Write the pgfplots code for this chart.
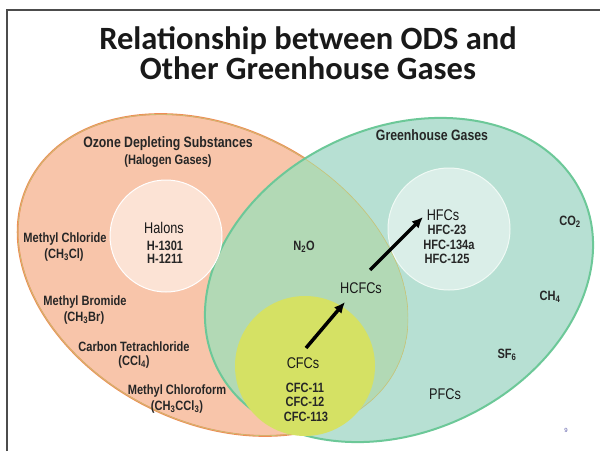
\documentclass[border=0pt]{standalone}
\usepackage{fontspec}
\setmainfont{Liberation Sans}
\newfontfamily\nar[FakeStretch=0.82]{Liberation Sans}
\newfontfamily\calfont{Carlito}
\usepackage{pgfplots}
\pgfplotsset{compat=1.18}
\usetikzlibrary{arrows.meta}
\definecolor{orfill}{RGB}{248,197,170}
\definecolor{oredge}{RGB}{240,140,85}
\definecolor{grfill}{RGB}{183,224,211}
\definecolor{gredge}{RGB}{108,200,152}
\definecolor{ovfill}{RGB}{178,217,181}
\definecolor{olive}{RGB}{200,195,120}
\definecolor{halfill}{RGB}{252,227,213}
\definecolor{hfcfill}{RGB}{218,238,232}
\definecolor{cfcfill}{RGB}{213,225,100}
\definecolor{txt}{RGB}{38,38,38}
\begin{document}
\begin{tikzpicture}
\begin{axis}[width=600pt,height=451pt,scale only axis,
  xmin=0,xmax=600,ymin=0,ymax=451,hide axis,clip=false]
\coordinate (sw) at (rel axis cs:0,0);
\coordinate (ne) at (rel axis cs:1,1);
% frame lines
\draw[line width=1.6pt,black!70] (7,0) -- (7,441) -- (600,441);
% orange ellipse (ODS)
\fill[orfill] (213,176) ellipse [x radius=206, y radius=147, rotate=-27];
\draw[oredge,line width=1.8pt] (213,176) ellipse [x radius=206, y radius=147, rotate=-27];
% green ellipse (GHG)
\fill[grfill] (399,171) ellipse [x radius=202, y radius=152, rotate=25];
\begin{scope}
\clip (213,176) ellipse [x radius=206, y radius=147, rotate=-27];
\fill[ovfill] (399,171) ellipse [x radius=202, y radius=152, rotate=25];
\draw[olive,line width=1.2pt] (213,176) ellipse [x radius=206, y radius=147, rotate=-27];
\end{scope}
\draw[gredge,line width=2pt] (399,171) ellipse [x radius=202, y radius=152, rotate=25];
% inner circles
\filldraw[fill=halfill,draw=white,line width=1pt] (166,215) circle [radius=56];
\filldraw[fill=hfcfill,draw=white!90!gredge,line width=1pt] (449,222) circle [radius=61];
\fill[cfcfill] (305,85) circle [radius=70];
% arrows
\draw[line width=3.5pt,-{Latex[length=11pt,width=10pt]}] (306,103) -- (345,149);
\draw[line width=3.5pt,-{Latex[length=11pt,width=10pt]}] (370,181) -- (423,234);
% title
\node[anchor=base,text=black!90] at (308,401) {\calfont\bfseries\fontsize{32.5}{32}\selectfont Relationship between ODS and};
\node[anchor=base,text=black!90] at (308,371) {\calfont\bfseries\fontsize{32.5}{32}\selectfont Other Greenhouse Gases};
% headers
\tikzset{hd/.style={text=txt,font=\nar\bfseries\fontsize{15}{15}\selectfont},
  lb/.style={text=txt,font=\nar\bfseries\fontsize{13.5}{14}\selectfont},
  rg/.style={text=black!90,font=\nar\fontsize{15.5}{15}\selectfont}}
\node[hd] at (168,307) {Ozone Depleting Substances};
\node[lb] at (168,290) {(Halogen Gases)};
\node[hd] at (432,316) {Greenhouse Gases};
% ODS labels
\node[rg] at (164,223) {Halons};
\node[lb] at (165,205) {H-1301};
\node[lb] at (165,192) {H-1211};
\node[lb] at (65,212) {Methyl Chloride};
\node[lb] at (64,196) {(CH\textsubscript{3}Cl)};
\node[lb] at (85,149) {Methyl Bromide};
\node[lb] at (84,133) {(CH\textsubscript{3}Br)};
\node[lb] at (134,104) {Carbon Tetrachloride};
\node[lb] at (134,89) {(CCl\textsubscript{4})};
\node[lb] at (177,60) {Methyl Chloroform};
\node[lb] at (177,44) {(CH\textsubscript{3}CCl\textsubscript{3})};
% GHG labels
\node[lb] at (304,204) {N\textsubscript{2}O};
\node[rg] at (443,236) {HFCs};
\node[lb] at (447,221) {HFC-23};
\node[lb] at (449,206) {HFC-134a};
\node[lb] at (447,192) {HFC-125};
\node[lb] at (570,229) {CO\textsubscript{2}};
\node[rg] at (361,163) {HCFCs};
\node[lb] at (550,154) {CH\textsubscript{4}};
\node[rg] at (303,88) {CFCs};
\node[lb] at (305,63) {CFC-11};
\node[lb] at (305,49) {CFC-12};
\node[lb] at (306,34) {CFC-113};
\node[lb] at (507,96) {SF\textsubscript{6}};
\node[rg] at (445,57) {PFCs};
\node[text=blue!30!gray,font=\fontsize{6}{6}\selectfont] at (566,21) {9};
\end{axis}
\pgfresetboundingbox
\useasboundingbox (sw) rectangle (ne);
\end{tikzpicture}
\end{document}
